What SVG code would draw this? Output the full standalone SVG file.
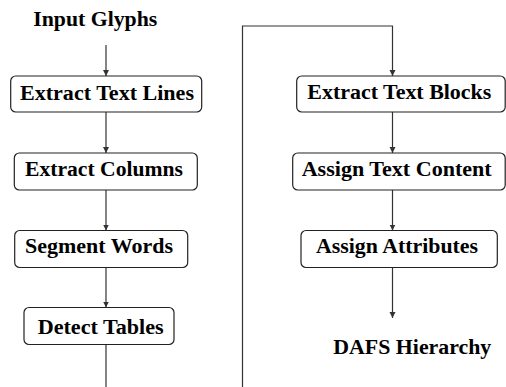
<svg xmlns="http://www.w3.org/2000/svg" width="506" height="387" viewBox="0 0 506 387">
<defs>
<marker id="ah" viewBox="0 0 6 8" refX="6" refY="4" markerWidth="6" markerHeight="8" markerUnits="userSpaceOnUse" orient="auto">
<path d="M0,1 L6,4 L0,7 Z" fill="#333"/>
</marker>
</defs>
<rect width="506" height="387" fill="#fff"/>
<g id="connectors" fill="none" stroke="#333" stroke-width="1.2">
<line x1="106" y1="45" x2="106" y2="76" marker-end="url(#ah)"/>
<line x1="106" y1="112" x2="106" y2="153" marker-end="url(#ah)"/>
<line x1="106" y1="190" x2="106" y2="230.5" marker-end="url(#ah)"/>
<line x1="106" y1="267.5" x2="106" y2="307.5" marker-end="url(#ah)"/>
<polyline points="106,344.5 106,390"/>
<polyline points="242.5,390 242.5,26 392.5,26 392.5,76" marker-end="url(#ah)"/>
<line x1="392.5" y1="112" x2="392.5" y2="153" marker-end="url(#ah)"/>
<line x1="392.5" y1="190" x2="392.5" y2="230.5" marker-end="url(#ah)"/>
<line x1="392.5" y1="267.5" x2="392.5" y2="318" marker-end="url(#ah)"/>
</g>
<g id="input-glyphs"><text x="33.3" y="26" textLength="124" lengthAdjust="spacingAndGlyphs" style="font-family:'Liberation Serif',serif;font-weight:bold;font-size:20px">Input Glyphs</text></g>
<g id="extract-text-lines"><rect x="10.7" y="76" width="191" height="36" rx="5" fill="#fff" stroke="#222" stroke-width="1.2"/><text x="20" y="99.5" textLength="174" lengthAdjust="spacingAndGlyphs" style="font-family:'Liberation Serif',serif;font-weight:bold;font-size:20px">Extract Text Lines</text></g>
<g id="extract-columns"><rect x="14.3" y="153" width="183" height="37" rx="5" fill="#fff" stroke="#222" stroke-width="1.2"/><text x="25" y="176" textLength="158" lengthAdjust="spacingAndGlyphs" style="font-family:'Liberation Serif',serif;font-weight:bold;font-size:20px">Extract Columns</text></g>
<g id="segment-words"><rect x="14.7" y="230.5" width="173" height="37" rx="5" fill="#fff" stroke="#222" stroke-width="1.2"/><text x="25" y="253.3" textLength="148" lengthAdjust="spacingAndGlyphs" style="font-family:'Liberation Serif',serif;font-weight:bold;font-size:20px">Segment Words</text></g>
<g id="detect-tables"><rect x="24" y="307.5" width="150" height="37" rx="5" fill="#fff" stroke="#222" stroke-width="1.2"/><text x="37.7" y="334.3" textLength="126" lengthAdjust="spacingAndGlyphs" style="font-family:'Liberation Serif',serif;font-weight:bold;font-size:20px">Detect Tables</text></g>
<g id="extract-text-blocks"><rect x="296.7" y="76" width="208.5" height="36" rx="5" fill="#fff" stroke="#222" stroke-width="1.2"/><text x="307.3" y="99.3" textLength="184" lengthAdjust="spacingAndGlyphs" style="font-family:'Liberation Serif',serif;font-weight:bold;font-size:20px">Extract Text Blocks</text></g>
<g id="assign-text-content"><rect x="292.7" y="153" width="212.5" height="37" rx="5" fill="#fff" stroke="#222" stroke-width="1.2"/><text x="301.7" y="176" textLength="190" lengthAdjust="spacingAndGlyphs" style="font-family:'Liberation Serif',serif;font-weight:bold;font-size:20px">Assign Text Content</text></g>
<g id="assign-attributes"><rect x="301" y="230.5" width="196.3" height="37" rx="5" fill="#fff" stroke="#222" stroke-width="1.2"/><text x="316" y="253.3" textLength="162" lengthAdjust="spacingAndGlyphs" style="font-family:'Liberation Serif',serif;font-weight:bold;font-size:20px">Assign Attributes</text></g>
<g id="dafs-hierarchy"><text x="333.3" y="353.5" textLength="158" lengthAdjust="spacingAndGlyphs" style="font-family:'Liberation Serif',serif;font-weight:bold;font-size:20px">DAFS Hierarchy</text></g>
</svg>
